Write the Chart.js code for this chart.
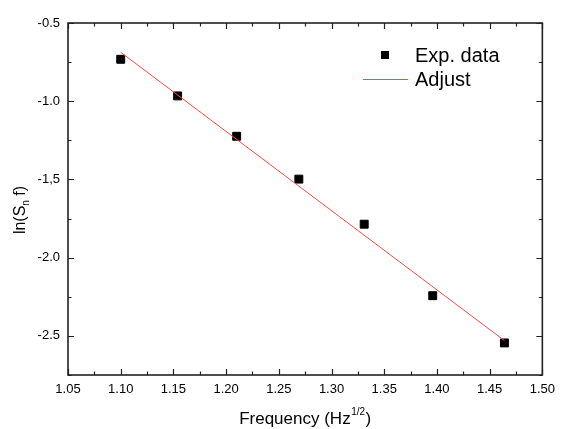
<!DOCTYPE html>
<html>
<head>
<meta charset="utf-8">
<script src="https://cdn.jsdelivr.net/npm/chart.js@4/dist/chart.umd.min.js"></script>
<style>
html,body{margin:0;padding:0;background:#fff;}
#wrap{width:562px;height:429px;}
</style>
</head>
<body>
<div id="wrap"><canvas id="c" width="562" height="429"></canvas></div>
<script>
// ---- data ----
const expX = [1.100, 1.154, 1.210, 1.269, 1.331, 1.396, 1.464];
const expY = [-0.732, -0.966, -1.224, -1.498, -1.786, -2.243, -2.545];
const fitX = [1.100, 1.464];
const fitY = [-0.687, -2.530];
const xTickValues = [1.05, 1.10, 1.15, 1.20, 1.25, 1.30, 1.35, 1.40, 1.45, 1.50];
const xTickLabels = ["1.05","1.10","1.15","1.20","1.25","1.30","1.35","1.40","1.45","1.50"];
const yTickValues = [-0.5, -1.0, -1.5, -2.0, -2.5];
const yTickLabels = ["-0.5","-1.0","-1,5","-2.0","-2.5"];
const seriesNames = ["Exp. data", "Adjust"];
const xTitle = ["Frequency (Hz", "1/2", ")"];
const yTitle = ["ln(S", "n", " f)"];

const FONT = "'Liberation Sans', Arial, sans-serif";
const FRAME = '#222';

function lookup(vals, labels, v){
  for (let i=0;i<vals.length;i++) if (Math.abs(vals[i]-v)<1e-6) return labels[i];
  return '';
}

const framePlugin = {
  id: 'frame',
  afterDatasetsDraw(chart){
    const ctx = chart.ctx, a = chart.chartArea;
    const xs = chart.scales.x, ys = chart.scales.y;
    ctx.save();
    ctx.strokeStyle = FRAME;
    ctx.lineWidth = 1.6;
    ctx.strokeRect(a.left, a.top, a.right - a.left, a.bottom - a.top);
    ctx.lineWidth = 1.2;
    const major = 6, minor = 3.5;
    ctx.beginPath();
    for (let i=0;i<xTickValues.length;i++){
      const px = Math.round(xs.getPixelForValue(xTickValues[i])) + 0.5;
      ctx.moveTo(px, a.bottom); ctx.lineTo(px, a.bottom - major);
      ctx.moveTo(px, a.top); ctx.lineTo(px, a.top + major);
      if (i < xTickValues.length-1){
        const mx = Math.round(xs.getPixelForValue((xTickValues[i]+xTickValues[i+1])/2)) + 0.5;
        ctx.moveTo(mx, a.bottom); ctx.lineTo(mx, a.bottom - minor);
        ctx.moveTo(mx, a.top); ctx.lineTo(mx, a.top + minor);
      }
    }
    const yv = yTickValues.slice().sort((p,q)=>p-q);
    const ymin = ys.min, ymax = ys.max;
    const step = yv[1]-yv[0];
    for (let v = yv[0]-step/2; v <= ymax+1e-9; v += step/2){
      if (v < ymin-1e-9) continue;
      const isMajor = yv.some(t=>Math.abs(t-v)<1e-6);
      const len = isMajor ? major : minor;
      const py = Math.round(ys.getPixelForValue(v)) + 0.5;
      ctx.moveTo(a.left, py); ctx.lineTo(a.left + len, py);
      ctx.moveTo(a.right, py); ctx.lineTo(a.right - len, py);
    }
    ctx.stroke();

    // legend
    const dsPts = chart.data.datasets[1], dsLine = chart.data.datasets[0];
    ctx.fillStyle = '#000';
    ctx.font = '20px ' + FONT;
    ctx.textBaseline = 'middle';
    ctx.textAlign = 'left';
    const ly1 = 55, ly2 = 79;
    ctx.fillRect(381, ly1 - 4, 8, 8);
    ctx.fillText(dsPts.label, 415, ly1 + 1);
    ctx.strokeStyle = dsLine.borderColor;
    ctx.lineWidth = 1;
    ctx.beginPath();
    ctx.moveTo(363, ly2 + 0.5); ctx.lineTo(408, ly2 + 0.5);
    ctx.stroke();
    ctx.fillText(dsLine.label, 415, ly2 + 1);

    // axis titles
    const big = '17px ' + FONT, small = '10px ' + FONT;
    ctx.fillStyle = '#000';
    ctx.textBaseline = 'alphabetic';
    // x title
    ctx.font = big; let w0 = ctx.measureText(xTitle[0]).width;
    ctx.font = small; let w1 = ctx.measureText(xTitle[1]).width;
    ctx.font = big; let w2 = ctx.measureText(xTitle[2]).width;
    let total = w0 + w1 + w2 + 1;
    let cx = (a.left + a.right)/2 - total/2;
    const tb = 424;
    ctx.font = big; ctx.fillText(xTitle[0], cx, tb);
    ctx.font = small; ctx.fillText(xTitle[1], cx + w0 + 0.5, tb - 9);
    ctx.font = big; ctx.fillText(xTitle[2], cx + w0 + w1 + 1, tb);
    // y title
    ctx.save();
    ctx.translate(25, 210);
    ctx.rotate(-Math.PI/2);
    const yb = '16px ' + FONT;
    ctx.font = yb; w0 = ctx.measureText(yTitle[0]).width;
    ctx.font = small; w1 = ctx.measureText(yTitle[1]).width;
    ctx.font = yb; w2 = ctx.measureText(yTitle[2]).width;
    total = w0 + w1 + w2;
    let sx = -total/2;
    ctx.font = yb; ctx.fillText(yTitle[0], sx, 0);
    ctx.font = small; ctx.fillText(yTitle[1], sx + w0, 4);
    ctx.font = yb; ctx.fillText(yTitle[2], sx + w0 + w1, 0);
    ctx.restore();
    ctx.restore();
  }
};

new Chart(document.getElementById('c'), {
  type: 'scatter',
  data: {
    datasets: [
      {
        type: 'line',
        label: seriesNames[1],
        data: fitX.map((x,i)=>({x:x, y:fitY[i]})),
        borderColor: 'rgb(255,70,70)',
        borderWidth: 1,
        pointRadius: 0,
        fill: false,
        tension: 0,
        order: 0
      },
      {
        label: seriesNames[0],
        data: expX.map((x,i)=>({x:x, y:expY[i]})),
        pointStyle: 'rect',
        pointRadius: 5.6,
        pointHoverRadius: 5.6,
        backgroundColor: '#000',
        borderColor: '#000',
        borderWidth: 1,
        order: 1
      }
    ]
  },
  options: {
    responsive: false,
    animation: false,
    events: [],
    layout: { padding: { left: 0, top: 23, right: 18, bottom: 0 } },
    plugins: { legend: { display: false }, tooltip: { enabled: false } },
    scales: {
      x: {
        type: 'linear',
        min: 1.05, max: 1.50,
        grid: { display: false, drawTicks: false },
        border: { display: false },
        afterFit(s){ s.height = 54; },
        afterBuildTicks(s){ s.ticks = xTickValues.map(v=>({value:v})); },
        ticks: {
          padding: 7,
          color: '#000',
          font: { family: FONT, size: 13 },
          maxRotation: 0,
          autoSkip: false,
          callback: (v) => lookup(xTickValues, xTickLabels, v)
        }
      },
      y: {
        type: 'linear',
        min: -2.75, max: -0.5,
        grid: { display: false, drawTicks: false },
        border: { display: false },
        afterFit(s){ s.width = 68; },
        afterBuildTicks(s){ s.ticks = yTickValues.map(v=>({value:v})); },
        ticks: {
          padding: 8,
          color: '#000',
          font: { family: FONT, size: 13 },
          autoSkip: false,
          callback: (v) => lookup(yTickValues, yTickLabels, v)
        }
      }
    }
  },
  plugins: [framePlugin]
});
</script>
</body>
</html>
